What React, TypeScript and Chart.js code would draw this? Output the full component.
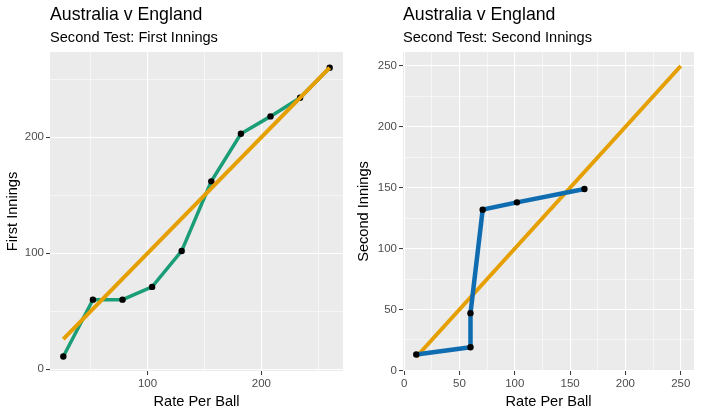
import { useEffect, useRef } from "react"
import { Chart, registerables } from "chart.js"

Chart.register(...registerables)

// first innings
const firstRate = [26, 52, 78, 104, 130, 156, 182, 208, 234, 260]
const firstRuns = [11, 60, 60, 71, 102, 162, 203, 218, 234, 260]
const firstParity = [26, 260]

// second innings
const secondRate = [11, 60, 60, 71, 102, 163]
const secondRuns = [13, 19, 47, 132, 138, 149]
const secondParity = [11, 250]

const firstXTicks = [50, 100, 150, 200, 250]
const firstXLabels = [100, 200]
const firstYTicks = [0, 50, 100, 150, 200, 250]
const firstYLabels = [0, 100, 200]
const secondTicks = [0, 25, 50, 75, 100, 125, 150, 175, 200, 225, 250]
const secondLabels = [0, 50, 100, 150, 200, 250]

const FONT = "'Liberation Sans', Arial, sans-serif"

const panelPlugin = {
    id: "panel",
    beforeDraw(chart: any) {
        const { ctx, chartArea } = chart
        ctx.save()
        ctx.fillStyle = "#EBEBEB"
        ctx.fillRect(chartArea.left, chartArea.top, chartArea.right - chartArea.left, chartArea.bottom - chartArea.top)
        ctx.restore()
    },
    afterDraw(chart: any, _args: any, opts: any) {
        const { ctx, chartArea } = chart
        ctx.save()
        ctx.fillStyle = "#000"
        ctx.textAlign = "left"
        ctx.textBaseline = "alphabetic"
        ctx.font = `17.7px ${FONT}`
        ctx.fillText(opts.title, chartArea.left, 20)
        ctx.font = `14.6px ${FONT}`
        ctx.fillText(opts.subtitle, chartArea.left, 42)
        ctx.restore()
    }
}

type PanelProps = {
    subtitle: string
    yTitle: string
    rate: number[]
    runs: number[]
    parity: number[]
    color: string
    lineWidth: number
    parityOnTop: boolean
    xTicks: number[]
    xLabels: number[]
    yTicks: number[]
    yLabels: number[]
    xMin: number
    xMax: number
    yMin: number
    yMax: number
    yWidth: number
}

function axis(ticks: number[], labels: number[], min: number, max: number, title: string, isY: boolean, size: number) {
    const major = (v: number) => labels.includes(v)
    return {
        type: "linear",
        min,
        max,
        afterBuildTicks: (scale: any) => {
            scale.ticks = ticks.map((v) => ({ value: v }))
        },
        afterFit: (scale: any) => {
            if (isY) scale.width = size
            else scale.height = size
        },
        border: { display: false },
        grid: {
            color: "#FFFFFF",
            lineWidth: (c: any) => (major(c.tick.value) ? 1.1 : 0.55),
            tickColor: (c: any) => (major(c.tick.value) ? "#333333" : "rgba(0,0,0,0)"),
            tickLength: 4,
            tickWidth: 1
        },
        ticks: {
            autoSkip: false,
            maxRotation: 0,
            padding: 2,
            color: "#4D4D4D",
            font: { family: FONT, size: 11.5 },
            callback: (v: any) => (major(Number(v)) ? String(v) : "")
        },
        title: {
            display: true,
            text: title,
            color: "#000",
            font: { family: FONT, size: 14.6 },
            padding: { top: 4, bottom: 3 }
        }
    }
}

function Panel(props: PanelProps) {
    const canvasRef = useRef<HTMLCanvasElement>(null)

    useEffect(() => {
        const points = props.rate.map((x, i) => ({ x, y: props.runs[i] }))
        const parity = props.parity.map((v) => ({ x: v, y: v }))

        const chart = new Chart(canvasRef.current, {
            type: "scatter",
            data: {
                datasets: [
                    {
                        data: points,
                        showLine: true,
                        borderColor: props.color,
                        borderWidth: props.lineWidth,
                        pointRadius: 0,
                        order: props.parityOnTop ? 3 : 2
                    },
                    {
                        data: parity,
                        showLine: true,
                        borderColor: "#E69F00",
                        borderWidth: 4,
                        pointRadius: 0,
                        order: props.parityOnTop ? 1 : 3
                    },
                    {
                        data: points,
                        showLine: false,
                        pointRadius: 3.2,
                        pointBackgroundColor: "#000",
                        pointBorderWidth: 0,
                        order: props.parityOnTop ? 2 : 1
                    }
                ]
            } as any,
            options: {
                animation: false,
                responsive: true,
                maintainAspectRatio: false,
                layout: { padding: { top: 52, right: 8, bottom: 0, left: 0 } },
                plugins: {
                    legend: { display: false },
                    tooltip: { enabled: false },
                    panel: { title: "Australia v England", subtitle: props.subtitle }
                } as any,
                scales: {
                    x: axis(props.xTicks, props.xLabels, props.xMin, props.xMax, "Rate Per Ball", false, 43),
                    y: axis(props.yTicks, props.yLabels, props.yMin, props.yMax, props.yTitle, true, props.yWidth)
                } as any
            },
            plugins: [panelPlugin]
        })

        return () => {
            chart.destroy()
        }
    }, [])

    return <canvas ref={canvasRef}></canvas>
}

export default function App() {
    return (
        <div style={{ position: "fixed", left: 0, top: 0, width: 702, height: 414, background: "#fff" }}>
            <div style={{ position: "absolute", left: 0, top: 0, width: 351, height: 414 }}>
                <Panel
                    subtitle="Second Test: First Innings"
                    yTitle="First Innings"
                    rate={firstRate}
                    runs={firstRuns}
                    parity={firstParity}
                    color="#1B9E77"
                    lineWidth={3.5}
                    parityOnTop={true}
                    xTicks={firstXTicks}
                    xLabels={firstXLabels}
                    yTicks={firstYTicks}
                    yLabels={firstYLabels}
                    xMin={14.3}
                    xMax={271.7}
                    yMin={-1.5}
                    yMax={273.5}
                    yWidth={50}
                />
            </div>
            <div style={{ position: "absolute", left: 351, top: 0, width: 351, height: 414 }}>
                <Panel
                    subtitle="Second Test: Second Innings"
                    yTitle="Second Innings"
                    rate={secondRate}
                    runs={secondRuns}
                    parity={secondParity}
                    color="#0F6CB0"
                    lineWidth={4.5}
                    parityOnTop={false}
                    xTicks={secondTicks}
                    xLabels={secondLabels}
                    yTicks={secondTicks}
                    yLabels={secondLabels}
                    xMin={-1}
                    xMax={262}
                    yMin={-0.5}
                    yMax={261.5}
                    yWidth={52}
                />
            </div>
        </div>
    )
}
